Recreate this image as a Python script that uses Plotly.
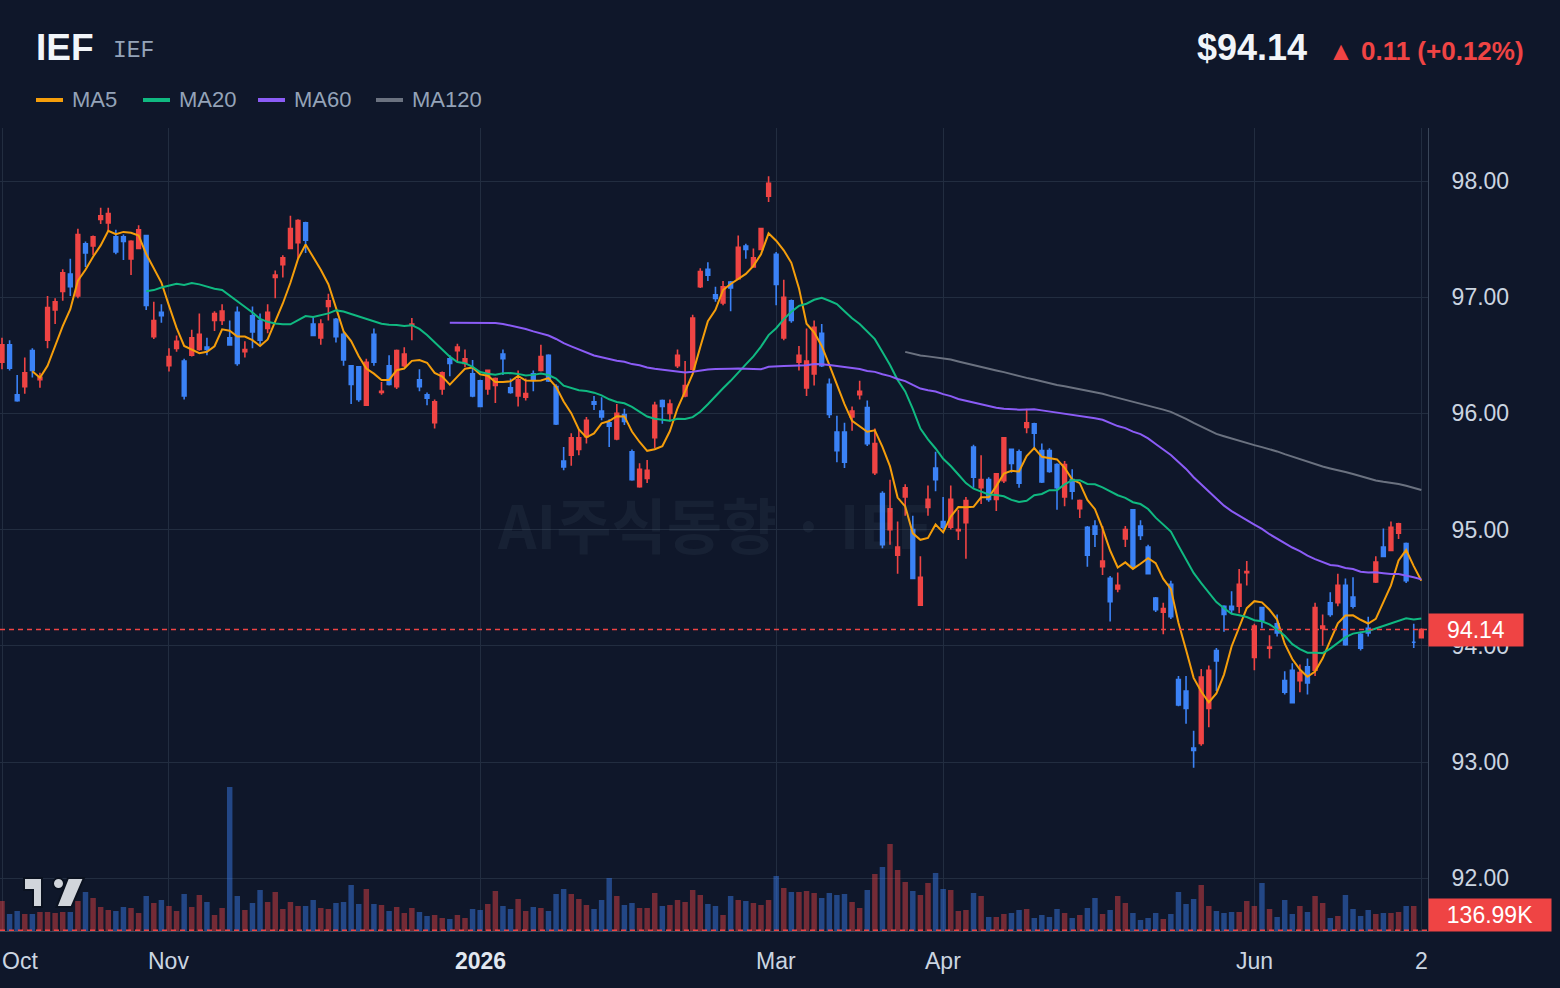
import pandas as pd
import plotly.graph_objects as go

# ---------------- data ----------------
ticker = "IEF"
start_date, end_date = "2025-10-02", "2026-07-02"
holidays = ["2025-11-27", "2025-12-25", "2026-01-01", "2026-01-19",
            "2026-02-16", "2026-04-03", "2026-05-25", "2026-06-19"]

open_ = [96.44, 96.59, 96.16, 96.23, 96.54, 96.29, 96.63, 96.89, 97.05, 97.20,
         97.01, 97.46, 97.44, 97.67, 97.64, 97.52, 97.52, 97.33, 97.42, 97.53,
         96.66, 96.87, 96.41, 96.56, 96.45, 96.50, 96.55, 96.57, 96.80, 96.80,
         96.65, 96.87, 96.53, 96.84, 96.80, 96.73, 97.17, 97.28, 97.42, 97.47,
         97.64, 96.77, 96.65, 96.92, 96.81, 96.68, 96.41, 96.40, 96.07, 96.68,
         96.18, 96.41, 96.23, 96.41, 96.76, 96.29, 96.16, 95.92, 96.21, 96.47,
         96.54, 96.43, 96.34, 96.28, 96.21, 96.24, 96.51, 96.22, 96.15, 96.14,
         96.34, 96.37, 96.50, 96.23, 95.59, 95.64, 95.69, 95.80, 96.10, 96.02,
         95.92, 95.78, 95.99, 95.67, 95.37, 95.44, 95.79, 96.11, 96.00, 96.41,
         96.15, 96.38, 97.09, 97.24, 97.02, 96.95, 97.13, 97.16, 97.44, 97.26,
         97.41, 97.87, 97.37, 96.65, 96.97, 96.44, 96.22, 96.34, 96.69, 96.25,
         95.84, 95.84, 95.97, 96.16, 96.05, 95.49, 95.31, 95.00, 94.78, 95.28,
         95.00, 94.35, 95.19, 95.53, 95.07, 95.02, 94.99, 95.06, 95.71, 95.36,
         95.43, 95.26, 95.42, 95.69, 95.67, 95.88, 95.91, 95.68, 95.68, 95.56,
         95.28, 95.43, 95.18, 95.02, 95.03, 94.68, 94.58, 94.49, 94.92, 95.17,
         95.03, 94.85, 94.41, 94.29, 94.53, 93.71, 93.61, 93.12, 93.16, 93.46,
         93.96, 94.34, 94.34, 94.34, 94.63, 93.90, 94.33, 93.98, 94.19, 93.70,
         93.79, 93.70, 93.82, 93.79, 94.15, 94.37, 94.37, 94.52, 94.42, 94.10,
         94.15, 94.55, 94.85, 94.82, 94.97, 94.88, 94.03, 94.07]

high = [96.65, 96.63, 96.33, 96.48, 96.56, 96.35, 97.01, 96.99, 97.24, 97.33,
        97.59, 97.48, 97.53, 97.77, 97.77, 97.58, 97.54, 97.49, 97.62, 97.53,
        96.96, 96.94, 96.56, 96.67, 96.47, 96.72, 96.86, 96.65, 96.88, 96.94,
        96.80, 96.92, 96.62, 96.92, 96.86, 96.94, 97.23, 97.36, 97.70, 97.67,
        97.65, 96.83, 96.81, 97.03, 96.82, 96.70, 96.41, 96.40, 96.47, 96.73,
        96.27, 96.50, 96.55, 96.57, 96.82, 96.38, 96.18, 96.12, 96.36, 96.50,
        96.60, 96.55, 96.46, 96.29, 96.37, 96.31, 96.55, 96.30, 96.37, 96.30,
        96.37, 96.59, 96.51, 96.25, 95.71, 95.83, 95.86, 95.97, 96.15, 96.14,
        95.95, 96.08, 96.04, 95.69, 95.57, 95.60, 96.10, 96.12, 96.12, 96.55,
        96.45, 96.85, 97.25, 97.30, 97.09, 97.14, 97.14, 97.53, 97.46, 97.42,
        97.59, 98.04, 97.39, 97.15, 96.98, 96.58, 96.73, 96.80, 96.77, 96.30,
        95.98, 95.92, 96.06, 96.28, 96.11, 95.87, 95.33, 95.43, 95.07, 95.39,
        95.12, 94.77, 95.38, 95.67, 95.28, 95.38, 95.17, 95.28, 95.73, 95.64,
        95.45, 95.48, 95.79, 95.69, 95.69, 96.04, 95.92, 95.74, 95.70, 95.57,
        95.59, 95.52, 95.26, 95.03, 95.08, 95.03, 94.60, 94.63, 95.03, 95.17,
        95.08, 94.87, 94.42, 94.37, 94.56, 93.74, 93.74, 93.27, 93.80, 93.83,
        93.98, 94.35, 94.47, 94.66, 94.73, 94.19, 94.33, 94.09, 94.27, 93.78,
        93.85, 93.84, 93.89, 94.37, 94.27, 94.46, 94.62, 94.58, 94.59, 94.12,
        94.25, 94.77, 95.01, 95.07, 95.06, 94.89, 94.19, 94.15]

low = [96.38, 96.37, 96.10, 96.17, 96.31, 96.22, 96.56, 96.77, 96.97, 97.01,
       96.99, 97.26, 97.36, 97.63, 97.57, 97.37, 97.32, 97.19, 97.42, 96.89,
       96.64, 96.78, 96.36, 96.53, 96.12, 96.49, 96.54, 96.50, 96.71, 96.76,
       96.59, 96.41, 96.48, 96.56, 96.59, 96.69, 96.99, 97.17, 97.42, 97.33,
       97.38, 96.67, 96.59, 96.80, 96.61, 96.41, 96.08, 96.10, 96.07, 96.41,
       96.16, 96.24, 96.21, 96.40, 96.63, 96.19, 96.07, 95.87, 96.16, 96.32,
       96.44, 96.40, 96.14, 96.06, 96.16, 96.09, 96.33, 96.17, 96.06, 96.11,
       96.19, 96.36, 96.27, 95.90, 95.51, 95.55, 95.64, 95.74, 96.03, 95.94,
       95.71, 95.77, 95.90, 95.42, 95.36, 95.40, 95.70, 95.91, 95.93, 96.39,
       96.14, 96.37, 97.08, 97.14, 96.96, 96.93, 96.88, 97.16, 97.33, 97.26,
       97.41, 97.82, 96.93, 96.63, 96.78, 96.37, 96.15, 96.24, 96.40, 95.96,
       95.58, 95.53, 95.85, 96.12, 95.72, 95.47, 94.84, 94.87, 94.62, 95.12,
       94.58, 94.35, 95.12, 95.33, 95.00, 95.00, 94.91, 94.75, 95.36, 95.22,
       95.24, 95.16, 95.40, 95.49, 95.36, 95.83, 95.69, 95.40, 95.49, 95.17,
       95.20, 95.26, 95.10, 94.68, 94.85, 94.61, 94.21, 94.46, 94.85, 94.67,
       94.91, 94.62, 94.29, 94.10, 94.23, 93.48, 93.33, 92.95, 93.14, 93.30,
       93.61, 94.12, 94.28, 94.28, 94.52, 93.79, 94.15, 93.89, 94.08, 93.58,
       93.51, 93.60, 93.58, 93.74, 94.00, 94.25, 94.34, 94.00, 94.32, 93.96,
       94.08, 94.54, 94.77, 94.82, 94.92, 94.54, 93.98, 94.07]

close = [96.59, 96.39, 96.11, 96.35, 96.37, 96.31, 96.91, 96.96, 97.21, 97.09,
         97.54, 97.38, 97.52, 97.70, 97.72, 97.39, 97.48, 97.48, 97.58, 96.93,
         96.80, 96.84, 96.49, 96.62, 96.15, 96.65, 96.68, 96.55, 96.86, 96.88,
         96.59, 96.43, 96.55, 96.70, 96.63, 96.87, 97.19, 97.34, 97.59, 97.66,
         97.49, 96.67, 96.77, 96.97, 96.66, 96.46, 96.25, 96.12, 96.44, 96.44,
         96.19, 96.25, 96.54, 96.51, 96.77, 96.23, 96.13, 96.10, 96.35, 96.43,
         96.57, 96.47, 96.15, 96.06, 96.37, 96.30, 96.47, 96.18, 96.29, 96.17,
         96.29, 96.49, 96.28, 95.91, 95.54, 95.79, 95.79, 95.94, 96.08, 95.97,
         95.89, 96.00, 95.93, 95.43, 95.52, 95.51, 96.07, 96.06, 96.08, 96.50,
         96.24, 96.82, 97.22, 97.19, 96.99, 97.09, 97.08, 97.43, 97.41, 97.34,
         97.59, 97.98, 97.11, 97.00, 96.80, 96.50, 96.45, 96.74, 96.41, 95.99,
         95.68, 95.58, 96.02, 96.19, 95.74, 95.74, 94.87, 95.18, 94.85, 95.36,
         94.58, 94.59, 95.26, 95.43, 95.02, 95.26, 95.00, 95.25, 95.45, 95.43,
         95.26, 95.48, 95.79, 95.57, 95.40, 95.92, 95.83, 95.41, 95.50, 95.36,
         95.56, 95.33, 95.25, 94.78, 94.96, 94.73, 94.38, 94.52, 95.00, 94.68,
         94.95, 94.62, 94.31, 94.32, 94.25, 93.49, 93.46, 93.10, 93.73, 93.79,
         93.87, 94.27, 94.31, 94.53, 94.64, 94.17, 94.22, 93.99, 94.11, 93.60,
         93.51, 93.77, 93.68, 94.33, 94.17, 94.27, 94.52, 94.01, 94.34, 93.98,
         94.11, 94.72, 94.77, 95.02, 95.05, 94.56, 94.03, 94.14]

# volume, thousands of shares
volume_k = [6000, 3400, 4000, 3400, 3400, 3800, 3800, 3600, 3800, 3800,
            6000, 7800, 6600, 4800, 4200, 4000, 4800, 4600, 3600, 7000,
            5600, 6200, 5000, 4000, 7400, 4800, 7200, 5800, 3200, 4600,
            28800, 7000, 4200, 5600, 8200, 5800, 7800, 4400, 5800, 5000,
            5000, 6200, 4600, 4400, 5600, 5800, 9200, 5400, 8400, 5400,
            5200, 4000, 4800, 3600, 4600, 3800, 3000, 3200, 2600, 2400,
            3200, 2600, 4400, 4200, 5400, 8000, 5000, 4400, 6400, 4000,
            4800, 4600, 4000, 7400, 8400, 7400, 6400, 5200, 4400, 6200,
            10600, 7000, 5200, 5600, 4600, 4600, 7600, 5000, 5200, 6200,
            5800, 8200, 7200, 5400, 5000, 3200, 7000, 6200, 6000, 5600,
            5200, 6200, 11000, 8600, 7800, 7800, 8000, 7600, 6600, 7600,
            7200, 7400, 5800, 4600, 8200, 11400, 12800, 17400, 12200, 9800,
            8000, 7200, 9600, 11600, 8400, 8200, 4000, 4200, 7600, 7000,
            2800, 2800, 3400, 3600, 4200, 4400, 2600, 3200, 2800, 4400,
            3600, 2600, 3200, 4600, 6600, 3400, 4200, 7000, 5600, 3600,
            2200, 2600, 3600, 2400, 3400, 7800, 5400, 6400, 9200, 5000,
            4000, 3600, 3800, 3800, 6000, 5000, 9600, 4400, 2800, 6200,
            3400, 5000, 3800, 7000, 5600, 2600, 3000, 7200, 4400, 3000,
            4200, 3400, 3600, 3600, 3800, 5000, 5000, 136.99]

ma_periods = [5, 20, 60, 120]
ma_colors = ["#f59e0b", "#10b981", "#8b5cf6", "#6b7280"]

tick_dates = ["2025-10-02", "2025-11-03", "2026-01-02", "2026-03-02",
              "2026-04-01", "2026-06-01", "2026-07-02"]
tick_labels = ["Oct", "Nov", "2026", "Mar", "Apr", "Jun", "2"]

# ---------------- styling ----------------
BG = "#0f172a"
GRID = "#222d40"
AXLINE = "#3a4659"
UP = "#ef4444"
DOWN = "#3b82f6"
TXT = "#cbd5e1"
MUTED = "#94a3b8"
FONT = "Liberation Sans"

W, H = 1560, 988
PL, PR, PT, PB = 0, 1428, 128, 931   # plot area in pixels


def fx(px):
    return (px - PL) / (PR - PL)


def fy(py):
    return (PB - py) / (PB - PT)


dates = pd.bdate_range(start_date, end_date, freq="C", holidays=holidays)
n = len(close)
xs = list(range(n))
date_txt = [d.strftime("%Y-%m-%d") for d in dates[:n]]
tick_idx = [list(dates).index(pd.Timestamp(d)) for d in tick_dates]

s_close = pd.Series(close)
vol_colors = ["rgba(239,68,68,0.45)" if c >= o else "rgba(59,130,246,0.45)"
              for o, c in zip(open_, close)]

fig = go.Figure()

# volume (base axis y, drawn beneath)
fig.add_trace(go.Bar(x=xs, y=volume_k, yaxis="y", marker=dict(color=vol_colors, line=dict(width=0)),
                     width=0.72, hoverinfo="skip", name="Volume"))

# candles (price axis y2)
fig.add_trace(go.Candlestick(
    x=xs, open=open_, high=high, low=low, close=close, yaxis="y2", text=date_txt,
    increasing=dict(line=dict(color=UP, width=1.6), fillcolor=UP),
    decreasing=dict(line=dict(color=DOWN, width=1.6), fillcolor=DOWN),
    whiskerwidth=0, name=ticker))

for p, col in zip(ma_periods, ma_colors):
    ma = s_close.rolling(p).mean()
    fig.add_trace(go.Scatter(x=xs, y=ma, yaxis="y2", mode="lines",
                             line=dict(color=col, width=2), name=f"MA{p}", hoverinfo="skip"))

vol_per_px = 200.0
price_top = 98 + (181 - PT) / 116.2
price_bot = 98 - (PB - 181) / 116.2

fig.update_layout(
    width=W, height=H,
    margin=dict(l=PL, r=W - PR, t=PT, b=H - PB, pad=0),
    paper_bgcolor=BG, plot_bgcolor=BG,
    showlegend=False,
    font=dict(family=FONT, color=TXT, size=23),
    xaxis=dict(range=[(PL - 2) / 7.59, (PR - 2) / 7.59], tickvals=tick_idx, showticklabels=False,
               showgrid=True, gridcolor=GRID, gridwidth=1, zeroline=False,
               showline=True, linecolor=AXLINE, linewidth=1, ticks="",
               rangeslider=dict(visible=False), fixedrange=True),
    yaxis=dict(range=[0, (PB - PT) * vol_per_px], visible=False, showgrid=False, fixedrange=True),
    yaxis2=dict(overlaying="y", side="right", range=[price_bot, price_top],
                tickvals=[92, 93, 94, 95, 96, 97, 98], tickformat=".2f",
                showgrid=True, gridcolor=GRID, gridwidth=1, zeroline=False,
                showline=True, linecolor=AXLINE, linewidth=1,
                ticks="outside", ticklen=18, tickcolor=BG,
                tickfont=dict(family=FONT, size=23, color=TXT), fixedrange=True),
)

shapes = []
annotations = []

# last price dashed line
last = close[-1]
prev = close[-2]
shapes.append(dict(type="line", xref="paper", x0=0, x1=1, yref="y2", y0=last, y1=last,
                   line=dict(color=UP, width=1.5, dash="5px,4px")))
# last volume dashed line
shapes.append(dict(type="line", xref="paper", x0=0, x1=1, yref="y", y0=volume_k[-1], y1=volume_k[-1],
                   line=dict(color=UP, width=1.5, dash="5px,4px")))

# price tag
annotations.append(dict(xref="paper", x=1, xanchor="left", yref="y2", y=last, yanchor="middle",
                        text=f"{last:.2f}", showarrow=False, bgcolor=UP, width=94, height=32,
                        borderpad=0, font=dict(family=FONT, size=23, color="#ffffff")))
# volume tag
annotations.append(dict(xref="paper", x=1, xanchor="left", yref="paper", y=fy(915), yanchor="middle",
                        text=f"{volume_k[-1]:.2f}K", showarrow=False, bgcolor=UP, width=122, height=32,
                        borderpad=0, font=dict(family=FONT, size=23, color="#ffffff")))

# x-axis labels
for i, (ti, lab) in enumerate(zip(tick_idx, tick_labels)):
    if i == 0:
        annotations.append(dict(xref="paper", x=0, xanchor="left", yref="paper", y=fy(961),
                                yanchor="middle", text=lab, showarrow=False,
                                font=dict(family=FONT, size=23, color=TXT)))
    else:
        bold = lab.isdigit() and len(lab) == 4
        annotations.append(dict(xref="x", x=ti, xanchor="center", yref="paper", y=fy(961),
                                yanchor="middle", text=f"<b>{lab}</b>" if bold else lab,
                                showarrow=False,
                                font=dict(family=FONT, size=23, color="#e2e8f0" if bold else TXT)))

# header
annotations.append(dict(xref="paper", x=fx(34), xanchor="left", yref="paper", y=fy(47), yanchor="middle",
                        text=f"<b>{ticker}</b>", showarrow=False,
                        font=dict(family=FONT, size=37, color="#f1f5f9")))
annotations.append(dict(xref="paper", x=fx(111), xanchor="left", yref="paper", y=fy(51), yanchor="middle",
                        text=ticker, showarrow=False,
                        font=dict(family="Liberation Mono", size=23, color=MUTED)))
annotations.append(dict(xref="paper", x=fx(1309), xanchor="right", yref="paper", y=fy(47), yanchor="middle",
                        text=f"<b>${last:.2f}</b>", showarrow=False,
                        font=dict(family=FONT, size=36, color="#f1f5f9")))
chg = last - prev
pct = chg / prev * 100
annotations.append(dict(xref="paper", x=fx(1526), xanchor="right", yref="paper", y=fy(51), yanchor="middle",
                        text=f"<b>▲ {chg:.2f} (+{pct:.2f}%)</b>", showarrow=False,
                        font=dict(family=FONT, size=26, color=UP)))

# legend
leg_x = [36, 143, 258, 376]
for (p, col, lx) in zip(ma_periods, ma_colors, leg_x):
    shapes.append(dict(type="line", xref="paper", yref="paper", x0=fx(lx), x1=fx(lx + 27),
                       y0=fy(100), y1=fy(100), line=dict(color=col, width=4)))
    annotations.append(dict(xref="paper", x=fx(lx + 34), xanchor="left", yref="paper", y=fy(99),
                            yanchor="middle", text=f"MA{p}", showarrow=False,
                            font=dict(family=FONT, size=22, color=MUTED)))

# watermark
annotations.append(dict(xref="paper", x=fx(714), xanchor="center", yref="paper", y=fy(522),
                        yanchor="middle", text=f"<b>AI주식동향 · {ticker}</b>", showarrow=False,
                        font=dict(family="Noto Sans CJK KR", size=60, color="rgba(148,163,184,0.07)")))

# logo (bottom-left)
LOGO = "#d1d5db"
LOGO_EDGE = "#0b1220"


def pth(points):
    return "M " + " L ".join(f"{fx(a):.5f},{fy(b):.5f}" for a, b in points) + " Z"


shapes.append(dict(type="path", xref="paper", yref="paper", layer="above",
                   path=pth([(24, 878), (42, 878), (42, 907), (33, 907), (33, 890), (24, 890)]),
                   fillcolor=LOGO, line=dict(color=LOGO_EDGE, width=2)))
shapes.append(dict(type="circle", xref="paper", yref="paper", layer="above",
                   x0=fx(53), x1=fx(64), y0=fy(889), y1=fy(878),
                   fillcolor=LOGO, line=dict(color=LOGO_EDGE, width=2)))
shapes.append(dict(type="path", xref="paper", yref="paper", layer="above",
                   path=pth([(68, 878), (84, 878), (71.5, 907), (56.5, 907)]),
                   fillcolor=LOGO, line=dict(color=LOGO_EDGE, width=2)))

fig.update_layout(shapes=shapes, annotations=annotations)

fig.write_html("out.html")
